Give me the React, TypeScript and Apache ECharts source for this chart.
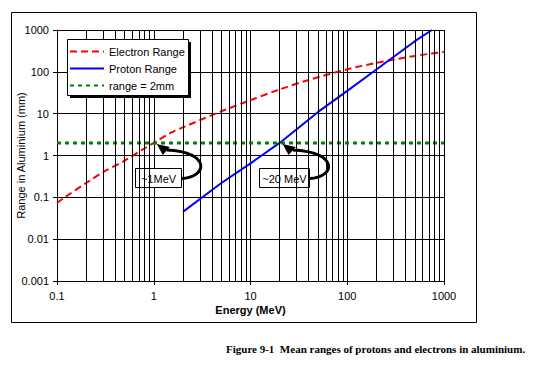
import React, { useEffect, useRef } from "react";
import * as echarts from "echarts";

const ELECTRON_E = [0.1, 0.12, 0.2, 0.3, 0.5, 0.75, 1, 1.5, 2, 5, 10, 20, 40, 100, 200, 500, 1000];
const ELECTRON_R = [0.073, 0.1, 0.22, 0.4, 0.75, 1.35, 2.0, 3.5, 4.7, 11.4, 21, 38, 64, 115, 164, 240, 300];
const PROTON_E = [2, 5, 10, 20, 50, 100, 200, 500, 750];
const PROTON_R = [0.045, 0.22, 0.65, 2.0, 11, 35, 114, 540, 1000];
const LIMIT_E = [0.1, 1000];
const LIMIT_R = 2;
const MINOR_X = [0.2, 0.3, 0.4, 0.5, 0.6, 0.7, 0.8, 0.9, 2, 3, 4, 5, 6, 7, 8, 9, 20, 30, 40, 50, 60, 70, 80, 90, 200, 300, 400, 500, 600, 700, 800, 900];
const X_TICK_LABELS = ["0.1", "1", "10", "100", "1000"];
const Y_TICK_LABELS = ["0.001", "0.01", "0.1", "1", "10", "100", "1000"];
const ANNOT_E = [1, 20];
const ANNOT_TEXT = ["~1MeV", "~20 MeV"];
const ANNOT_W = [46, 50];
const SERIES_NAMES = ["Electron Range", "Proton Range", "range = 2mm"];

const FONT = "'Liberation Sans', Arial, sans-serif";

export default function App() {
  const ref = useRef<HTMLDivElement>(null);
  useEffect(() => {
    document.body.style.margin = "0";
    const chart = echarts.init(ref.current!, null, { renderer: "svg" });
    const option: any = {
      animation: false,
      backgroundColor: "#fff",
      textStyle: { fontFamily: FONT },
      grid: { left: 57, right: 99, top: 30, bottom: 95, containLabel: false, outerBoundsMode: "none" },
      legend: {
        data: SERIES_NAMES,
        orient: "vertical",
        left: 69,
        top: 46,
        padding: 0,
        itemGap: 6,
        itemWidth: 34,
        itemHeight: 12,
        z: 6,
        itemStyle: { opacity: 0 },
        textStyle: { fontSize: 11, color: "#000", fontFamily: FONT },
      },
      xAxis: {
        type: "log",
        logBase: 10,
        min: 0.1,
        max: 1000,
        name: "Energy (MeV)",
        nameLocation: "middle",
        nameGap: 23,
        nameMoveOverlap: false,
        nameTextStyle: { fontSize: 11, fontWeight: "bold", color: "#000", fontFamily: FONT },
        axisLine: { lineStyle: { color: "#000", width: 1 } },
        axisTick: { show: true, length: 4, lineStyle: { color: "#000" } },
        axisLabel: {
          fontSize: 11,
          color: "#000",
          margin: 9,
          fontFamily: FONT,
          formatter: (v: number) => X_TICK_LABELS[Math.round(Math.log10(v)) + 1] ?? "",
        },
        splitLine: { show: true, lineStyle: { color: "#000", width: 1 } },
      },
      yAxis: {
        type: "log",
        logBase: 10,
        min: 0.001,
        max: 1000,
        name: "Range in Aluminium (mm)",
        nameLocation: "middle",
        nameGap: 31,
        nameMoveOverlap: false,
        nameTextStyle: { fontSize: 11, color: "#000", fontFamily: FONT },
        axisLine: { lineStyle: { color: "#000", width: 1 } },
        axisTick: { show: true, length: 4, lineStyle: { color: "#000" } },
        axisLabel: {
          fontSize: 11,
          color: "#000",
          margin: 8,
          fontFamily: FONT,
          formatter: (v: number) => Y_TICK_LABELS[Math.round(Math.log10(v)) + 3] ?? "",
        },
        splitLine: { show: true, lineStyle: { color: "#000", width: 1 } },
      },
      series: [
        {
          name: "minor",
          type: "line",
          data: [],
          silent: true,
          z: 1,
          markLine: {
            silent: true,
            symbol: ["none", "none"],
            label: { show: false },
            lineStyle: { color: "#000", width: 1, type: "solid" },
            data: MINOR_X.map((v) => ({ xAxis: v })),
          },
        },
        {
          name: SERIES_NAMES[0],
          type: "line",
          showSymbol: false,
          symbol: "none",
          smooth: 0.3,
          z: 3,
          lineStyle: { color: "#ff0000", width: 2, type: [7, 4] },
          itemStyle: { color: "#ff0000" },
          data: ELECTRON_E.map((e, i) => [e, ELECTRON_R[i]]),
        },
        {
          name: SERIES_NAMES[1],
          type: "line",
          showSymbol: false,
          symbol: "none",
          z: 3,
          lineStyle: { color: "#0000ff", width: 2, type: "solid" },
          itemStyle: { color: "#0000ff" },
          data: PROTON_E.map((e, i) => [e, PROTON_R[i]]),
        },
        {
          name: SERIES_NAMES[2],
          type: "line",
          showSymbol: false,
          symbol: "none",
          z: 3,
          lineStyle: { color: "#008000", width: 3, type: [4, 4] },
          itemStyle: { color: "#008000" },
          data: LIMIT_E.map((e) => [e, LIMIT_R]),
        },
      ],
    };
    chart.setOption(option);

    const graphics: any[] = [
      { type: "rect", z: -10, silent: true, shape: { x: 11.5, y: 12.5, width: 465, height: 310 }, style: { fill: "#fff", stroke: "#000", lineWidth: 1 } },
      { type: "rect", z: 4, silent: true, shape: { x: 70, y: 42, width: 121, height: 56 }, style: { fill: "#000" } },
      { type: "rect", z: 5, silent: true, shape: { x: 67.5, y: 39.5, width: 121, height: 56 }, style: { fill: "#fff", stroke: "#000", lineWidth: 1 } },
      {
        type: "text",
        z: 5,
        silent: true,
        x: 226,
        y: 349,
        style: {
          text: "Figure 9-1  Mean ranges of protons and electrons in aluminium.",
          fontFamily: "'Liberation Serif', 'Times New Roman', serif",
          fontSize: 11,
          fontWeight: "bold",
          fill: "#000",
          verticalAlign: "middle",
        },
      },
    ];

    ANNOT_E.forEach((e, i) => {
      const p = chart.convertToPixel({ gridIndex: 0 } as any, [e, LIMIT_R]) as number[];
      const tx = p[0] + 3;
      const ty = p[1] + 1;
      const w = ANNOT_W[i];
      const bx = Math.round(tx + 1 - w / 2) + 0.5;
      const by = Math.round(ty + 24) + 0.5;
      const bxr = bx + w;
      const byc = by + 10;
      graphics.push({
        type: "bezierCurve",
        z: 5,
        silent: true,
        shape: { x1: bxr, y1: byc, cpx1: bxr + 26, cpy1: byc - 1, cpx2: bxr + 30, cpy2: ty + 8, x2: tx + 10, y2: ty + 6 },
        style: { stroke: "#000", lineWidth: 3, fill: null },
      });
      graphics.push({
        type: "polygon",
        z: 5,
        silent: true,
        shape: { points: [[tx, ty], [tx + 13, ty + 3], [tx + 6, ty + 11]] },
        style: { fill: "#000" },
      });
      graphics.push({
        type: "rect",
        z: 4,
        silent: true,
        shape: { x: bx, y: by, width: w, height: 19 },
        style: { fill: "#fff", stroke: "#000", lineWidth: 1 },
      });
      graphics.push({
        type: "text",
        z: 5,
        silent: true,
        x: bx + w / 2,
        y: by + 10,
        style: {
          text: ANNOT_TEXT[i],
          fontFamily: FONT,
          fontSize: 11,
          fill: "#000",
          align: "center",
          verticalAlign: "middle",
        },
      });
    });

    chart.setOption({ graphic: graphics });
    return () => chart.dispose();
  }, []);
  return <div ref={ref} style={{ position: "fixed", left: 0, top: 0, width: 543, height: 376 }} />;
}
